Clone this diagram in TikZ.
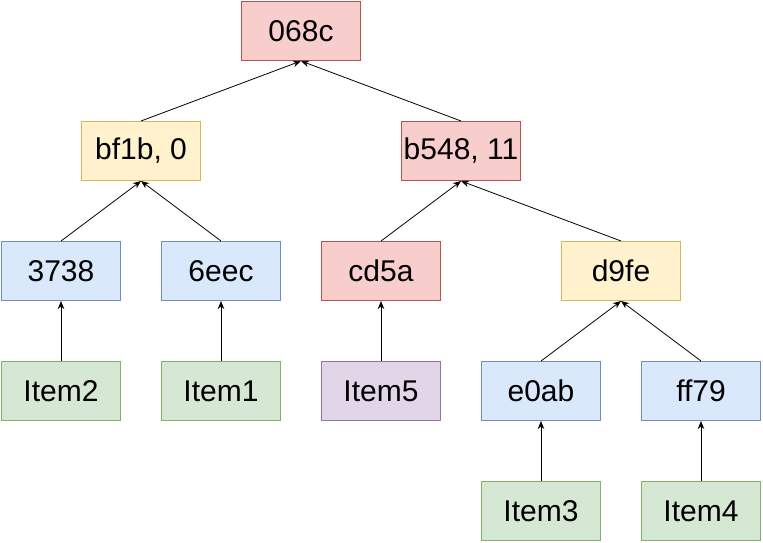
\documentclass[tikz,border=0pt]{standalone}
\usepackage{fontspec}
\setmainfont{Liberation Sans}
\usetikzlibrary{arrows.meta,positioning}
\definecolor{redfill}{HTML}{F8CECC}\definecolor{redline}{HTML}{B85450}
\definecolor{yelfill}{HTML}{FFF2CC}\definecolor{yelline}{HTML}{D6B656}
\definecolor{bluefill}{HTML}{DAE8FC}\definecolor{blueline}{HTML}{6C8EBF}
\definecolor{grnfill}{HTML}{D5E8D4}\definecolor{grnline}{HTML}{82B366}
\definecolor{purfill}{HTML}{E1D5E7}\definecolor{purline}{HTML}{9673A6}
\begin{document}
\begin{tikzpicture}[x=1pt,y=-1pt,
  box/.style={draw, line width=1pt, minimum width=119pt, minimum height=59pt, inner sep=0pt, font=\fontsize{30}{34}\selectfont},
  redbox/.style={box, fill=redfill, draw=redline},
  yelbox/.style={box, fill=yelfill, draw=yelline},
  bluebox/.style={box, fill=bluefill, draw=blueline},
  grnbox/.style={box, fill=grnfill, draw=grnline},
  purbox/.style={box, fill=purfill, draw=purline},
  arr/.style={-{Stealth[length=8pt,width=6.5pt,inset=2.5pt]}, line width=0.8pt}]
\useasboundingbox (0,0) rectangle (763,543);
\node[redbox] (root) at (301,31) {068c};
\node[yelbox] (bf) at (141,151) {bf1b, 0};
\node[redbox] (bs) at (461,151) {b548, 11};
\node[bluebox] (h3738) at (61,271) {3738};
\node[bluebox] (h6eec) at (221,271) {6eec};
\node[redbox] (hcd5a) at (381,271) {cd5a};
\node[yelbox] (hd9fe) at (621,271) {d9fe};
\node[grnbox] (it2) at (61,391) {Item2};
\node[grnbox] (it1) at (221,391) {Item1};
\node[purbox] (it5) at (381,391) {Item5};
\node[bluebox] (he0ab) at (541,391) {e0ab};
\node[bluebox] (hff79) at (701,391) {ff79};
\node[grnbox] (it3) at (541,511) {Item3};
\node[grnbox] (it4) at (701,511) {Item4};
\draw[arr] (bf.north) -- (root.south); \draw[arr] (bs.north) -- (root.south);
\draw[arr] (h3738.north) -- (bf.south); \draw[arr] (h6eec.north) -- (bf.south);
\draw[arr] (hcd5a.north) -- (bs.south); \draw[arr] (hd9fe.north) -- (bs.south);
\draw[arr] (it2) -- (h3738); \draw[arr] (it1) -- (h6eec);
\draw[arr] (it5) -- (hcd5a);
\draw[arr] (he0ab.north) -- (hd9fe.south); \draw[arr] (hff79.north) -- (hd9fe.south);
\draw[arr] (it3) -- (he0ab); \draw[arr] (it4) -- (hff79);
\end{tikzpicture}
\end{document}
